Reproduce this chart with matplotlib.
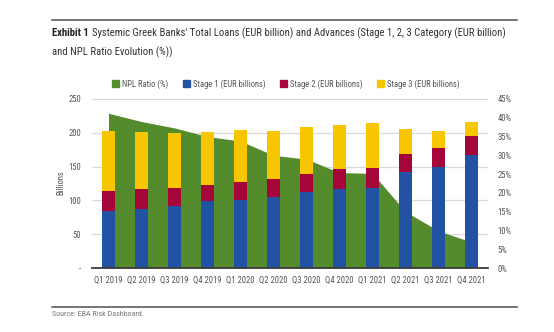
import matplotlib
matplotlib.use("Agg")
import matplotlib.pyplot as plt
from matplotlib import font_manager
from matplotlib.lines import Line2D
from matplotlib.patches import Patch
from matplotlib.ticker import FixedLocator, FuncFormatter
import numpy as np

# ---- data ----
quarters = ["Q1 2019", "Q2 2019", "Q3 2019", "Q4 2019", "Q1 2020", "Q2 2020",
            "Q3 2020", "Q4 2020", "Q1 2021", "Q2 2021", "Q3 2021", "Q4 2021"]
stage1 = [85, 88, 92, 99, 101, 105, 112, 117, 118, 142, 149, 167]
stage2 = [29, 29, 27, 24, 26, 27, 27, 29, 30, 27, 28, 29]
stage3 = [89, 84, 80, 78, 77, 70, 70, 65, 66, 36, 26, 20]
npl_ratio = [41.2, 39.0, 37.3, 35.0, 33.8, 30.0, 29.0, 25.4, 25.2, 15.0, 9.9, 6.9]

left_ticks = [0, 50, 100, 150, 200, 250]
right_ticks = [0, 5, 10, 15, 20, 25, 30, 35, 40, 45]

# ---- fonts: prefer a narrow sans face ----
entries = font_manager.fontManager.ttflist
names = {f.name for f in entries}
pref = ["Liberation Sans Narrow", "Roboto Condensed", "Open Sans Condensed",
        "Liberation Sans", "DejaVu Sans"]
family = next((p for p in pref if p in names), "DejaVu Sans")
is_narrow = ("Narrow" in family) or ("Condensed" in family)
plt.rcParams["font.family"] = [family, "DejaVu Sans"]
scale = 1.0 if is_narrow else 0.85

C_GREEN = "#548B2C"
C_BLUE = "#2152A3"
C_RED = "#A6053A"
C_YELLOW = "#F7C600"
C_TEXT = "#555555"
C_RULE = "#505050"

W, H = 554, 332
fig = plt.figure(figsize=(W / 100, H / 100), dpi=100)


def fx(px):
    return px / W


def fy(py):
    return 1 - py / H


# background axes carries the area and grid; front axes carries the bars
ax = fig.add_axes([fx(92), fy(268), fx(488) - fx(92), fy(99) - fy(268)])
ax2 = ax.twinx()
ax2.set_zorder(ax.get_zorder() - 1)
ax.patch.set_visible(False)
ax2.patch.set_visible(True)
ax2.patch.set_facecolor("white")

x = np.arange(len(quarters))
ax.set_xlim(-0.5, len(quarters) - 0.5)
ax.set_ylim(0, 250)
ax2.set_ylim(0, 45)

# horizontal grid at the billions ticks, drawn beneath the area
for yv in left_ticks[1:]:
    ax2.add_line(Line2D([0, 1], [yv, yv], transform=ax.get_yaxis_transform(),
                        color="#DADADA", lw=0.9, zorder=0))

ax2.fill_between(x, 0, npl_ratio, color=C_GREEN, lw=0, zorder=1)

bw = 0.42
b1 = np.array(stage1)
b2 = np.array(stage2)
b3 = np.array(stage3)
ax.bar(x, b1, bw, color=C_BLUE, zorder=3)
ax.bar(x, b2, bw, bottom=b1, color=C_RED, zorder=3)
ax.bar(x, b3, bw, bottom=b1 + b2, color=C_YELLOW, zorder=3)

# axes styling
for a in (ax, ax2):
    for s in ["top", "left", "right"]:
        a.spines[s].set_visible(False)
ax2.spines["bottom"].set_visible(False)
ax.spines["bottom"].set_color("#3C3C3C")
ax.spines["bottom"].set_linewidth(1.3)
ax.spines["bottom"].set_zorder(5)

tick_fs = 6.2 * scale
ax.set_xticks(x)
ax.set_xticklabels(quarters, fontsize=tick_fs, color=C_TEXT)
ax.tick_params(axis="x", length=0, pad=6)

ax.yaxis.set_major_locator(FixedLocator(left_ticks))
ax.yaxis.set_major_formatter(FuncFormatter(lambda v, p: "-" if v == 0 else f"{v:.0f}"))
ax.tick_params(axis="y", length=0, pad=8, labelsize=tick_fs, labelcolor=C_TEXT)
fig.text(fx(61), fy(183), "Billions", fontsize=tick_fs, color=C_TEXT,
         rotation=90, ha="center", va="center")

ax2.yaxis.set_major_locator(FixedLocator(right_ticks))
ax2.yaxis.set_major_formatter(FuncFormatter(lambda v, p: f"{v:.0f}%"))
ax2.tick_params(axis="y", length=0, pad=7, labelsize=tick_fs, labelcolor=C_TEXT)

# legend
handles = [Patch(color=C_GREEN), Patch(color=C_BLUE), Patch(color=C_RED), Patch(color=C_YELLOW)]
labels = ["NPL Ratio (%)", "Stage 1 (EUR billions)", "Stage 2 (EUR billions)", "Stage 3 (EUR billions)"]
fig.legend(handles, labels, loc="center", bbox_to_anchor=(fx(286), fy(84)), ncol=4,
           frameon=False, fontsize=tick_fs, handlelength=0.8, handleheight=0.8,
           handletextpad=0.35, columnspacing=1.7, labelcolor=C_TEXT)

# rules and headings
fig.add_artist(Line2D([fx(52), fx(517)], [fy(20), fy(20)], color=C_RULE, lw=1.1))
fig.add_artist(Line2D([fx(52), fx(517)], [fy(307), fy(307)], color=C_RULE, lw=1.1))

title_fs = 7.7 * scale
t_bold = fig.text(fx(52), fy(33), "Exhibit 1", fontsize=title_fs, fontweight="bold",
                  color="#222222", va="center", ha="left")
renderer = fig.canvas.get_renderer()
bb = t_bold.get_window_extent(renderer)
fig.text(fx(bb.x1 + 3), fy(33),
         "Systemic Greek Banks' Total Loans (EUR billion) and Advances (Stage 1, 2, 3 Category (EUR billion)",
         fontsize=title_fs, color="#333333", va="center", ha="left")
fig.text(fx(52), fy(52), "and NPL Ratio Evolution (%))", fontsize=title_fs,
         color="#333333", va="center", ha="left")
fig.text(fx(52), fy(314), "Source: EBA Risk Dashboard.", fontsize=5.8 * scale,
         color="#777777", va="center", ha="left")

fig.savefig("out.png", dpi=100)
